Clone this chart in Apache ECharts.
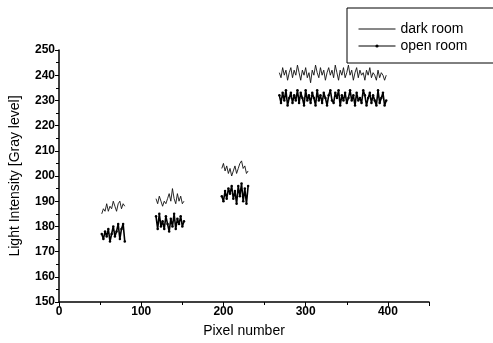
<!DOCTYPE html>
<html>
<head>
<meta charset="utf-8">
<script src="https://cdn.jsdelivr.net/npm/echarts@6/dist/echarts.min.js"></script>
<style>
html,body{margin:0;padding:0;background:#fff;}
#main{width:493px;height:343px;}
</style>
</head>
<body>
<div id="main"></div>
<script>
// pixel where each block of readings starts, step between readings
var segStart = [52, 118, 198, 268];
var segStep = 2;

// dark room readings, gray level
var dark1 = [185, 187, 186, 189, 186, 188, 187, 190, 188, 186, 189, 190, 187, 189, 188];
var dark2 = [191, 189, 192, 190, 188, 190, 189, 191, 193, 190, 195, 191, 189, 193, 190, 192, 189, 190];
var dark3 = [203, 205, 202, 204, 201, 203, 200, 202, 204, 201, 203, 205, 206, 203, 204, 201, 202];
var dark4 = [241, 239, 243, 240, 242, 238, 241, 243, 239, 242,
             240, 244, 241, 238, 242, 240, 243, 239, 241, 237,
             242, 240, 244, 241, 239, 243, 240, 242, 238, 241,
             243, 240, 242, 239, 244, 241, 238, 242, 240, 243,
             239, 241, 244, 240, 242, 238, 241, 243, 239, 242,
             240, 241, 238, 242, 240, 243, 239, 241, 240, 238,
             242, 239, 241, 240, 238, 240];

// open room readings
var open1 = [177, 175, 178, 176, 179, 174, 177, 180, 176, 178, 181, 175, 179, 181, 174];
var open2 = [184, 179, 185, 180, 182, 179, 184, 181, 178, 183, 180, 185, 179, 183, 181, 184, 180, 182];
var open3 = [192, 190, 194, 191, 195, 193, 196, 191, 194, 189, 196, 192, 197, 190, 195, 189, 196];
var open4 = [232, 229, 233, 230, 234, 228, 231, 233, 229, 232,
             230, 234, 229, 233, 231, 228, 234, 230, 232, 229,
             233, 231, 228, 234, 230, 232, 229, 233, 231, 228,
             232, 234, 230, 229, 233, 231, 234, 228, 232, 230,
             233, 229, 231, 234, 230, 232, 228, 233, 230, 231,
             229, 234, 232, 228, 231, 233, 229, 232, 230, 228,
             234, 229, 231, 233, 228, 230];

var seriesNames = ['dark room', 'open room'];

//把几段读数拼成一条线，段与段之间断开
function buildLine(segs)
{
	var out = [];
	for (var s = 0; s < segs.length; s++)
	{
		for (var i = 0; i < segs[s].length; i++)
		{
			out.push([segStart[s] + segStep * i, segs[s][i]]);
		}
		if (s < segs.length - 1) out.push('-');
	}
	return out;
}

var font = 'Liberation Sans, Arial, sans-serif';
var myChart = echarts.init(document.getElementById('main'));
myChart.setOption({
	animation: false,
	backgroundColor: '#fff',
	grid: {left: 54.5, right: 64, top: 50, bottom: 38.5},
	legend: {
		orient: 'vertical',
		left: 347,
		top: 8,
		padding: [14, 60, 10, 11],
		borderColor: '#000',
		borderWidth: 1,
		itemWidth: 37,
		itemHeight: 4,
		itemGap: 3,
		textStyle: {fontFamily: font, fontSize: 14, color: '#000', lineHeight: 14},
		data: [
			{name: seriesNames[0], itemStyle: {opacity: 0}, lineStyle: {width: 1}},
			{name: seriesNames[1], lineStyle: {width: 1}}
		]
	},
	xAxis: {
		type: 'value',
		min: 0,
		max: 450,
		interval: 100,
		name: 'Pixel number',
		nameLocation: 'middle',
		nameGap: 22,
		nameTextStyle: {fontFamily: font, fontSize: 14, color: '#000'},
		axisLine: {lineStyle: {color: '#000', width: 1.5}},
		axisTick: {length: 4, lineStyle: {color: '#000', width: 1}},
		minorTick: {show: true, splitNumber: 2, length: 3, lineStyle: {color: '#000'}},
		axisLabel: {fontFamily: font, fontSize: 12, fontWeight: 'bold', color: '#000', margin: 4, showMaxLabel: false},
		splitLine: {show: false}
	},
	yAxis: {
		type: 'value',
		min: 150,
		max: 250,
		interval: 10,
		name: 'Light Intensity [Gray level]',
		nameLocation: 'middle',
		nameGap: 37,
		nameTextStyle: {fontFamily: font, fontSize: 14, color: '#000'},
		axisLine: {show: true, lineStyle: {color: '#000', width: 1.5}},
		axisTick: {show: true, length: 4, lineStyle: {color: '#000', width: 1}},
		minorTick: {show: true, splitNumber: 2, length: 3, lineStyle: {color: '#000'}},
		axisLabel: {fontFamily: font, fontSize: 12, fontWeight: 'bold', color: '#000', margin: 4},
		splitLine: {show: false}
	},
	series: [
		{
			name: seriesNames[0],
			type: 'line',
			showSymbol: false,
			symbol: 'none',
			color: '#000',
			lineStyle: {color: '#111', width: 0.9},
			data: buildLine([dark1, dark2, dark3, dark4])
		},
		{
			name: seriesNames[1],
			type: 'line',
			symbol: 'circle',
			symbolSize: 2.5,
			showSymbol: true,
			color: '#000',
			itemStyle: {color: '#000'},
			lineStyle: {color: '#000', width: 1.6},
			data: buildLine([open1, open2, open3, open4])
		}
	]
});
</script>
</body>
</html>
